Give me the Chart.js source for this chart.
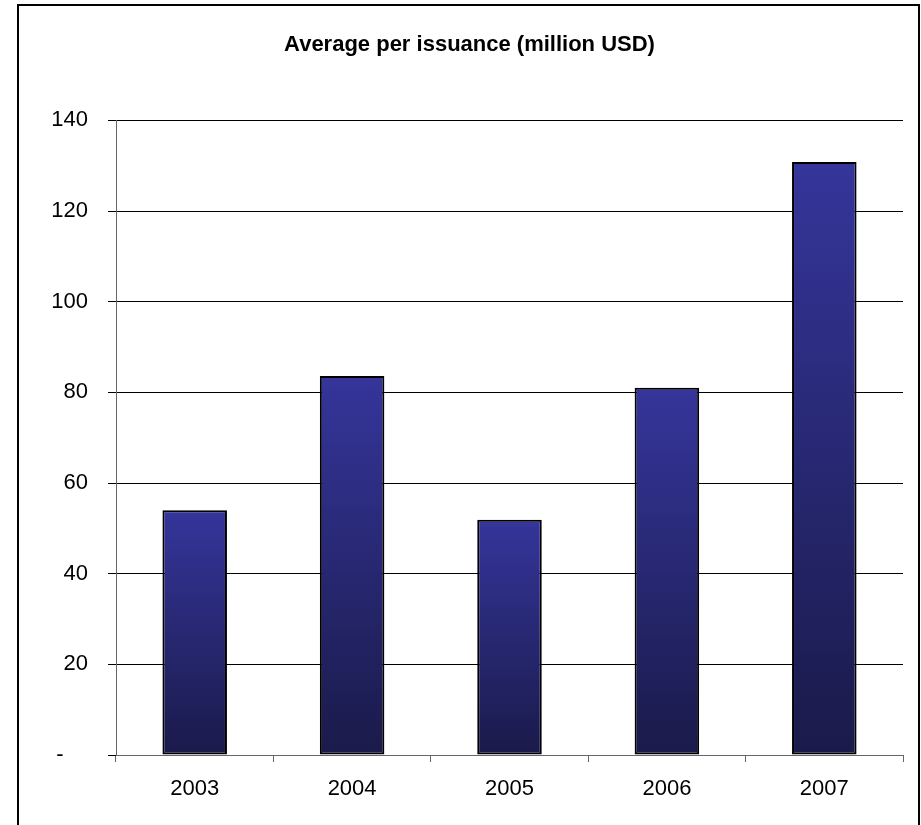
<!DOCTYPE html>
<html>
<head>
<meta charset="utf-8">
<title>Average per issuance</title>
<script src="https://cdn.jsdelivr.net/npm/chart.js@4.4.1/dist/chart.umd.min.js"></script>
<style>
  html, body { margin: 0; padding: 0; background: #fff; }
  #frame {
    position: absolute; left: 17px; top: 4px;
    width: 899px; height: 900px;
    border: 2px solid #000;
  }
  #chart_media { position: absolute; left: 36px; top: 0; }
</style>
</head>
<body>
<div id="frame"></div>
<canvas id="chart_media" width="885" height="825"></canvas>
<script>
const anos = ['2003', '2004', '2005', '2006', '2007'];
const media = [54.0, 83.6, 51.9, 81.0, 130.8];
const eixoY = { min: 0, max: 140, passo: 20 };

const fonte = 'Liberation Sans, Arial, sans-serif';

// each bar gets its own top-to-bottom gradient
function gradienteBarra(c) {
  const chart = c.chart;
  if (!chart.chartArea || c.raw === undefined) return '#333399';
  const y = chart.scales.y;
  const g = chart.ctx.createLinearGradient(0, y.getPixelForValue(c.raw), 0, y.getPixelForValue(0));
  g.addColorStop(0, '#35359b');
  g.addColorStop(1, '#1a1a4a');
  return g;
}

const media_el = document.getElementById('chart_media');

new Chart(media_el, {
  type: 'bar',
  data: {
    labels: anos,
    datasets: [{
      label: 'Average per issuance',
      data: media,
      backgroundColor: gradienteBarra,
      borderColor: '#000',
      borderWidth: 2,
      borderSkipped: false,
      categoryPercentage: 1,
      barPercentage: 0.41
    }]
  },
  options: {
    responsive: false,
    animation: false,
    layout: { padding: { left: 0, right: 18, top: 0, bottom: 0 } },
    plugins: {
      legend: { display: false },
      tooltip: { enabled: false },
      title: {
        display: true,
        text: 'Average per issuance (million USD)',
        color: '#000',
        font: { family: fonte, size: 22, weight: 'bold', lineHeight: 1.2 },
        padding: { top: 32, bottom: 62 }
      }
    },
    scales: {
      x: {
        afterFit: (s) => { s.height = 70; },
        grid: {
          offset: true,
          drawOnChartArea: false,
          drawTicks: true,
          tickLength: 7,
          color: '#666'
        },
        border: { display: true, color: '#666', width: 1 },
        ticks: {
          color: '#000',
          padding: 14,
          font: { family: fonte, size: 22 }
        }
      },
      y: {
        min: eixoY.min,
        max: eixoY.max,
        afterFit: (s) => { s.width = 80; },
        grid: {
          color: '#000',
          lineWidth: 1,
          drawTicks: true,
          tickLength: 8
        },
        border: { display: true, color: '#666', width: 1 },
        ticks: {
          stepSize: eixoY.passo,
          color: '#000',
          padding: 20,
          font: { family: fonte, size: 22 },
          callback: (v) => v === 0 ? '-    ' : v
        }
      }
    }
  }
});
</script>
</body>
</html>
